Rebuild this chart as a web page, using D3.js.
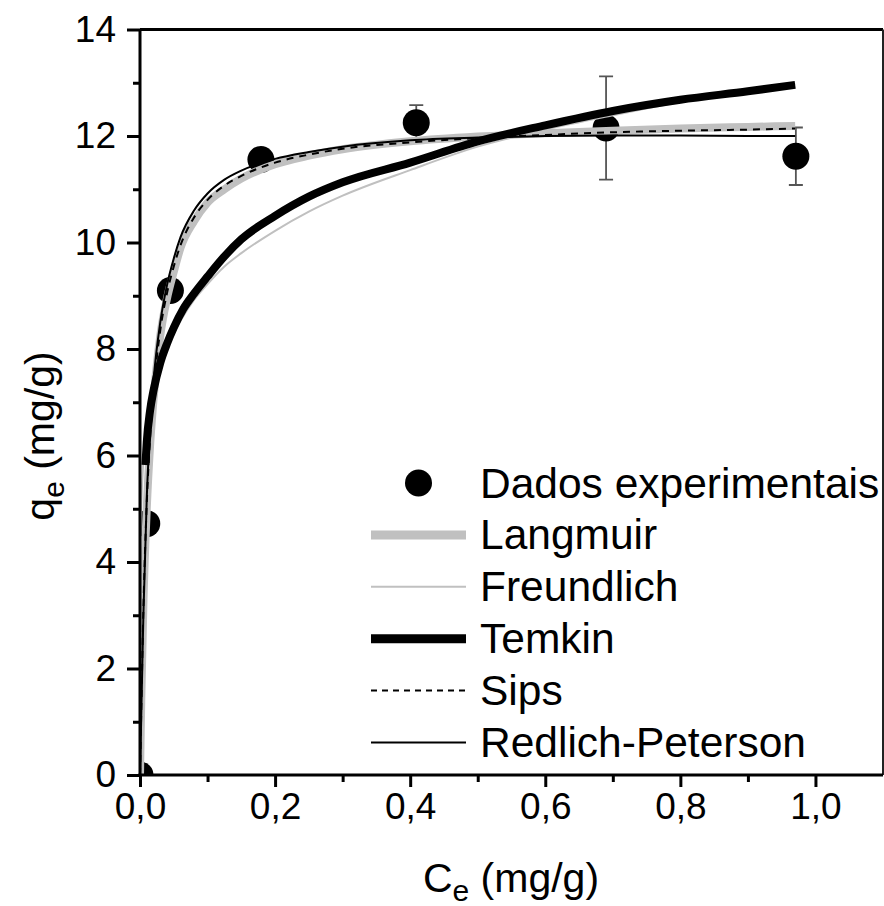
<!DOCTYPE html>
<html>
<head>
<meta charset="utf-8">
<script src="https://cdn.jsdelivr.net/npm/d3@7"></script>
<style>
  html, body { margin: 0; padding: 0; background: #fff; }
  svg { display: block; font-family: "Liberation Sans", Arial, sans-serif; }
</style>
</head>
<body>
<svg id="chart" width="884" height="906"></svg>
<script>
const ceData = [0, 0.01, 0.045, 0.179, 0.409, 0.69, 0.971];
const qeData = [0, 4.72, 9.1, 11.56, 12.25, 12.15, 11.62];
const qeErr = [0, 0, 0, 0, 0.33, 0.97, 0.54];

// fitted curves
const ceGrid = [0, 0.002, 0.005, 0.01, 0.015, 0.02, 0.03, 0.04, 0.05, 0.06, 0.08, 0.1,
  0.125, 0.15, 0.2, 0.25, 0.3, 0.4, 0.5, 0.6, 0.7, 0.8, 0.9, 0.97];
const langmuir = [0, 1.5, 3.2, 5.0, 6.2, 7.05, 8.25, 8.95, 9.45, 9.9, 10.4, 10.75,
  11.0, 11.2, 11.47, 11.63, 11.75, 11.9, 11.99, 12.05, 12.1, 12.14, 12.17, 12.19];
const sips = [0, 1.3, 3.1, 5.1, 6.35, 7.2, 8.35, 9.05, 9.55, 9.95, 10.47, 10.8,
  11.07, 11.25, 11.5, 11.65, 11.76, 11.88, 11.96, 12.02, 12.07, 12.1, 12.12, 12.14];
const redlich = [0, 1.2, 3.0, 5.2, 6.5, 7.4, 8.5, 9.2, 9.7, 10.1, 10.6, 10.92,
  11.18, 11.35, 11.57, 11.7, 11.8, 11.92, 11.97, 12.0, 12.01, 12.01, 12.0, 12.0];

const ceFreundlich = [0, 0.0005, 0.001, 0.002, 0.005, 0.01, 0.015, 0.02, 0.03, 0.04, 0.05,
  0.06, 0.08, 0.1, 0.125, 0.15, 0.2, 0.25, 0.3, 0.4, 0.5, 0.6, 0.7, 0.8, 0.9, 0.97];
const freundlich = [0, 4.1, 4.6, 5.1, 5.9, 6.5, 6.9, 7.2, 7.68, 8.02, 8.3,
  8.53, 8.92, 9.22, 9.55, 9.8, 10.22, 10.58, 10.88, 11.36, 11.8, 12.12, 12.39, 12.64, 12.85, 12.98];

const ceTemkin = [0.008, 0.01, 0.015, 0.02, 0.03, 0.04, 0.05, 0.064, 0.08, 0.1, 0.125,
  0.15, 0.2, 0.25, 0.3, 0.4, 0.5, 0.6, 0.7, 0.8, 0.9, 0.97];
const temkin = [5.82, 6.25, 6.85, 7.22, 7.74, 8.1, 8.4, 8.75, 9.04, 9.36, 9.74,
  10.06, 10.5, 10.86, 11.13, 11.5, 11.9, 12.2, 12.47, 12.68, 12.84, 12.96];

const xTicks = [0, 0.2, 0.4, 0.6, 0.8, 1.0];
const xMinor = [0.1, 0.3, 0.5, 0.7, 0.9];
const yTicks = [0, 2, 4, 6, 8, 10, 12, 14];
const yMinor = [1, 3, 5, 7, 9, 11, 13];

const legendNames = ["Dados experimentais", "Langmuir", "Freundlich", "Temkin", "Sips", "Redlich-Peterson"];

// plot area
const pLeft = 140, pRight = 883, pTop = 29.5, pBottom = 775;

const svg = d3.select("#chart");

const x = d3.scaleLinear().domain([0, 1.1]).range([pLeft, pRight]);
const y = d3.scaleLinear().domain([0, 14]).range([pBottom, pTop]);

svg.append("defs").append("clipPath")
  .attr("id", "plot-clip")
  .append("rect")
  .attr("x", pLeft).attr("y", pTop)
  .attr("width", pRight - pLeft).attr("height", pBottom - pTop);

const plot = svg.append("g").attr("clip-path", "url(#plot-clip)");

// points first, the curves are drawn over them
const pts = ceData.map((c, i) => ({ c: c, q: qeData[i], e: qeErr[i] }));

plot.selectAll(".err")
  .data(pts.filter(d => d.e > 0))
  .enter().append("path")
  .attr("class", "err")
  .attr("fill", "none")
  .attr("stroke", "#555")
  .attr("stroke-width", 1.8)
  .attr("d", d => {
    const cx = x(d.c), y1 = y(d.q + d.e), y2 = y(d.q - d.e);
    return `M${cx},${y1}V${y2}M${cx - 7},${y1}H${cx + 7}M${cx - 7},${y2}H${cx + 7}`;
  });

plot.selectAll(".dot")
  .data(pts)
  .enter().append("circle")
  .attr("class", "dot")
  .attr("cx", d => x(d.c))
  .attr("cy", d => y(d.q))
  .attr("r", 13.5)
  .attr("fill", "#000");

const line = d3.line()
  .x(d => x(d[0]))
  .y(d => y(d[1]))
  .curve(d3.curveMonotoneX);

const zip = (xs, ys) => xs.map((v, i) => [v, ys[i]]);

const styles = {
  "Langmuir": { stroke: "#c0c0c0", width: 8, dash: null },
  "Freundlich": { stroke: "#c0c0c0", width: 2, dash: null },
  "Temkin": { stroke: "#000", width: 8, dash: null },
  "Sips": { stroke: "#000", width: 2, dash: "7,6" },
  "Redlich-Peterson": { stroke: "#000", width: 2, dash: null }
};

const series = [
  { name: "Langmuir", pts: zip(ceGrid, langmuir) },
  { name: "Freundlich", pts: zip(ceFreundlich, freundlich) },
  { name: "Temkin", pts: zip(ceTemkin, temkin) },
  { name: "Sips", pts: zip(ceGrid, sips) },
  { name: "Redlich-Peterson", pts: zip(ceGrid, redlich) }
];

series.forEach(s => {
  const st = styles[s.name];
  plot.append("path")
    .datum(s.pts)
    .attr("fill", "none")
    .attr("stroke", st.stroke)
    .attr("stroke-width", st.width)
    .attr("stroke-dasharray", st.dash)
    .attr("d", line);
});

// frame
svg.append("line").attr("x1", pLeft).attr("x2", pRight).attr("y1", pTop).attr("y2", pTop)
  .attr("stroke", "#000").attr("stroke-width", 3);
svg.append("line").attr("x1", pRight).attr("x2", pRight).attr("y1", pTop).attr("y2", pBottom)
  .attr("stroke", "#222").attr("stroke-width", 2);

// axes
const fmtX = d => d3.format(".1f")(d).replace(".", ",");

svg.append("g")
  .attr("transform", `translate(0,${pBottom})`)
  .call(d3.axisBottom(x).tickValues(xTicks).tickSize(12).tickPadding(6).tickFormat(fmtX));
svg.append("g")
  .attr("transform", `translate(0,${pBottom})`)
  .call(d3.axisBottom(x).tickValues(xMinor).tickSize(7).tickFormat(""));

svg.append("g")
  .attr("transform", `translate(${pLeft},0)`)
  .call(d3.axisLeft(y).tickValues(yTicks).tickSize(13).tickPadding(11).tickFormat(d3.format("d")));
svg.append("g")
  .attr("transform", `translate(${pLeft},0)`)
  .call(d3.axisLeft(y).tickValues(yMinor).tickSize(7).tickFormat(""));

svg.selectAll(".domain").remove();
svg.selectAll(".tick line").attr("stroke", "#000").attr("stroke-width", 3);
svg.selectAll(".tick text")
  .attr("fill", "#000")
  .attr("font-size", "37px")
  .attr("font-family", "'Liberation Sans', Arial, sans-serif");

svg.append("line").attr("x1", pLeft).attr("x2", pLeft).attr("y1", pTop).attr("y2", pBottom + 1.5)
  .attr("stroke", "#000").attr("stroke-width", 3);
svg.append("line").attr("x1", pLeft - 1.5).attr("x2", pRight).attr("y1", pBottom).attr("y2", pBottom)
  .attr("stroke", "#000").attr("stroke-width", 3);

// axis titles
const xTitle = svg.append("text")
  .attr("x", 511).attr("y", 892)
  .attr("text-anchor", "middle")
  .attr("font-size", "41px")
  .attr("fill", "#000");
xTitle.append("tspan").text("C");
xTitle.append("tspan").attr("font-size", "30px").attr("dy", 9).text("e");
xTitle.append("tspan").attr("dy", -9).text(" (mg/g)");

const yTitle = svg.append("text")
  .attr("transform", "translate(54,436) rotate(-90)")
  .attr("text-anchor", "middle")
  .attr("font-size", "41px")
  .attr("fill", "#000");
yTitle.append("tspan").text("q");
yTitle.append("tspan").attr("font-size", "30px").attr("dy", 10).text("e");
yTitle.append("tspan").attr("dy", -10).text(" (mg/g)");

// legend
const legX1 = 371, legX2 = 466, legTextX = 480, legY0 = 483, legStep = 51.9;

const leg = svg.append("g");
legendNames.forEach((name, i) => {
  const cy = legY0 + i * legStep;
  if (i === 0) {
    leg.append("circle")
      .attr("cx", (legX1 + legX2) / 2).attr("cy", cy).attr("r", 13.5).attr("fill", "#000");
  } else {
    const st = styles[name];
    leg.append("line")
      .attr("x1", legX1).attr("x2", legX2).attr("y1", cy).attr("y2", cy)
      .attr("stroke", st.stroke)
      .attr("stroke-width", st.width + (st.width > 4 ? 1 : 0))
      .attr("stroke-dasharray", st.dash === null ? null : "6,5");
  }
  leg.append("text")
    .attr("x", legTextX).attr("y", cy + 14.5)
    .attr("font-size", "42.5px")
    .attr("fill", "#000")
    .text(name);
});
</script>
</body>
</html>
